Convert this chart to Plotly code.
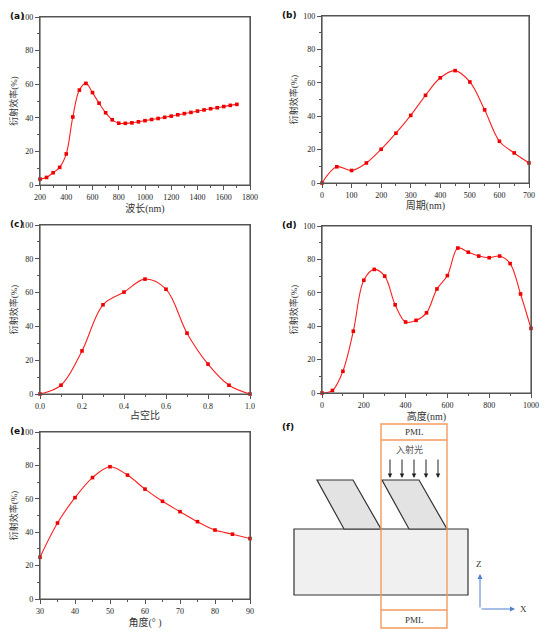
import plotly.graph_objects as go

# page size; the browser puts an 8 px body margin in front of the figure
PAGE_W, PAGE_H = 553, 637
OFF = 8
W, H = PAGE_W - OFF, PAGE_H - OFF


def px(x):
    return (x - OFF) / W


def py(y):
    return 1 - (y - OFF) / H


# (a) wavelength scan
wl_nm = list(range(200, 1701, 50))
eff_wl = [3.5, 4.5, 7.3, 10.5, 18.5, 40.5, 56.5, 60.5, 55.0, 48.7, 43.0, 38.8,
          36.8, 36.7, 37.0, 37.6, 38.3, 39.0, 39.6, 40.3, 41.0, 41.8, 42.5,
          43.2, 44.0, 44.7, 45.4, 46.0, 46.7, 47.4, 48.0]

# (b) period scan
period_nm = list(range(0, 701, 50))
eff_period = [0.0, 9.7, 7.5, 12.0, 20.2, 29.8, 40.5, 52.5, 63.0, 67.3, 60.5,
              43.8, 25.0, 18.0, 12.0]

# (c) duty cycle scan
duty = [0.0, 0.1, 0.2, 0.3, 0.4, 0.5, 0.6, 0.7, 0.8, 0.9, 1.0]
eff_duty = [0.0, 5.2, 25.5, 52.8, 60.3, 68.0, 62.0, 36.0, 17.7, 5.2, 0.0]

# (d) height scan
height_nm = list(range(0, 1001, 50))
eff_height = [0.0, 1.5, 13.0, 37.0, 67.5, 74.0, 70.0, 52.8, 42.5, 43.5, 48.0,
              62.3, 70.3, 86.8, 84.3, 82.0, 81.0, 82.0, 77.5, 59.3, 38.7]

# (e) angle scan
angle_deg = list(range(30, 91, 5))
eff_angle = [25.0, 45.5, 60.7, 72.7, 79.2, 74.2, 65.8, 58.5, 52.3, 46.3, 41.3,
             38.8, 36.2]

panels = [
    # x, y, xtitle, xrange, dtick, minor, tickformat, label, box(page px)
    (wl_nm, eff_wl, "波长(nm)", [200, 1800], 200, 100, "", "(a)", (40, 250, 17, 185)),
    (period_nm, eff_period, "周期(nm)", [0, 700], 100, 50, "", "(b)", (322, 529, 16, 183)),
    (duty, eff_duty, "占空比", [0, 1], 0.2, 0.1, ".1f", "(c)", (40, 250, 225, 394)),
    (height_nm, eff_height, "高度(nm)", [0, 1000], 200, 100, "", "(d)", (322, 531, 226, 393)),
    (angle_deg, eff_angle, "角度(° )", [30, 90], 10, 5, "", "(e)", (40, 250, 432, 599)),
]

SERIF = "Liberation Serif"
MIXED = "Liberation Serif, Noto Sans CJK SC"
AXC = "#555555"
RED = "#ff2020"

fig = go.Figure()
annotations = []
shapes = []

for i, (xs, ys, xt, xr, dt, mn, tf, lab, (x0, x1, y0, y1)) in enumerate(panels):
    n = "" if i == 0 else str(i + 1)
    fig.add_trace(go.Scatter(
        x=xs, y=ys, mode="lines+markers",
        line=dict(color=RED, width=1.1, shape="spline", smoothing=1.0),
        marker=dict(color="#ee0000", size=3.6, symbol="square"),
        xaxis="x" + n, yaxis="y" + n, showlegend=False, cliponaxis=False,
    ))
    ax_style = dict(showline=True, linecolor=AXC, linewidth=1.2, mirror=True,
                    ticks="outside", ticklen=4, tickcolor=AXC, tickwidth=1.2,
                    showgrid=False, zeroline=False, automargin=False,
                    tickfont=dict(family=SERIF, size=8, color="#222222"))
    fig.layout["xaxis" + n] = go.layout.XAxis(
        domain=[px(x0), px(x1)], range=xr, dtick=dt, tick0=xr[0],
        anchor="y" + n, tickformat=tf,
        minor=dict(dtick=mn, ticks="outside", ticklen=2, tickcolor=AXC, tickwidth=1.1),
        title=dict(text=xt, font=dict(family=MIXED, size=10, color="#333333"),
                   standoff=2),
        **ax_style)
    fig.layout["yaxis" + n] = go.layout.YAxis(
        domain=[py(y1), py(y0)], range=[0, 100], dtick=20,
        anchor="x" + n,
        minor=dict(dtick=10, ticks="outside", ticklen=2, tickcolor=AXC, tickwidth=1.1),
        title=dict(text="衍射效率(%)", font=dict(family=MIXED, size=9, color="#333333"),
                   standoff=4),
        **ax_style)
    # plot frame in paper coordinates
    shapes.append(dict(type="rect", xref="paper", yref="paper", layer="above",
                       x0=px(x0), x1=px(x1), y0=py(y1), y1=py(y0),
                       line=dict(color=AXC, width=1.2)))
    annotations.append(dict(
        text="<b>" + lab + "</b>", xref="paper", yref="paper",
        x=px(8 if i % 2 == 0 else 280), y=py(max(y0 - 8, 8)),
        xanchor="left", yanchor="top", showarrow=False,
        font=dict(family="DejaVu Sans", size=9, color="#111111")))

# (f) schematic, drawn in a hidden axis using page-pixel units
annotations.append(dict(text="<b>(f)</b>", xref="paper", yref="paper",
                        x=px(280), y=py(420), xanchor="left", yanchor="top",
                        showarrow=False,
                        font=dict(family="DejaVu Sans", size=9, color="#111111")))
fig.layout["xaxis6"] = go.layout.XAxis(domain=[px(276), 1], range=[276, PAGE_W],
                                       visible=False, anchor="y6", fixedrange=True)
fig.layout["yaxis6"] = go.layout.YAxis(domain=[0, py(415)], range=[PAGE_H, 415],
                                       visible=False, anchor="x6", fixedrange=True)
fig.add_trace(go.Scatter(x=[276, PAGE_W], y=[415, PAGE_H], mode="markers",
                         marker=dict(opacity=0), xaxis="x6", yaxis="y6",
                         showlegend=False, hoverinfo="skip"))

ORANGE = "#f39a5f"
DARK = "#333333"
ref = dict(xref="x6", yref="y6")
# substrate
shapes.append(dict(type="rect", x0=294, x1=468, y0=529, y1=595,
                   fillcolor="#f0f0f0", line=dict(color=DARK, width=1.2), **ref))
# gratings (slanted parallelograms)
for xt0, xt1, xb0, xb1 in [(317, 353, 344, 381), (382, 419, 409, 447)]:
    shapes.append(dict(type="path",
                       path=f"M {xt0} 480 L {xt1} 480 L {xb1} 529 L {xb0} 529 Z",
                       fillcolor="#e3e3e3", line=dict(color=DARK, width=1.2), **ref))
# simulation cell and PML layers
shapes.append(dict(type="rect", x0=381, x1=447, y0=424, y1=628,
                   line=dict(color=ORANGE, width=1.4), **ref))
for yl in (440, 610):
    shapes.append(dict(type="line", x0=381, x1=447, y0=yl, y1=yl,
                       line=dict(color=ORANGE, width=1.4), **ref))
for yl in (432, 620):
    annotations.append(dict(text="PML", x=414, y=yl, showarrow=False,
                            font=dict(family=SERIF, size=9, color="#333333"), **ref))
annotations.append(dict(text="入射光", x=409, y=449, showarrow=False,
                        font=dict(family="Noto Sans CJK SC", size=9, color="#555555"),
                        **ref))
# incident light arrows
for xa in (390, 402, 414, 426, 438):
    annotations.append(dict(x=xa, y=478, ax=xa, ay=458, axref="x6", ayref="y6",
                            text="", showarrow=True, arrowhead=2, arrowsize=0.9,
                            arrowwidth=1, arrowcolor="#222222", **ref))
# coordinate axes
BLUE = "#4f7fcf"
annotations.append(dict(x=480, y=574, ax=480, ay=609, axref="x6", ayref="y6",
                        text="", showarrow=True, arrowhead=2, arrowsize=1,
                        arrowwidth=1, arrowcolor=BLUE, **ref))
annotations.append(dict(x=515, y=609, ax=480, ay=609, axref="x6", ayref="y6",
                        text="", showarrow=True, arrowhead=2, arrowsize=1,
                        arrowwidth=1, arrowcolor=BLUE, **ref))
annotations.append(dict(text="Z", x=479, y=564, showarrow=False,
                        font=dict(family=SERIF, size=9, color="#333333"), **ref))
annotations.append(dict(text="X", x=523, y=609, showarrow=False,
                        font=dict(family=SERIF, size=9, color="#333333"), **ref))

fig.update_layout(
    template="none",
    width=W, height=H, margin=dict(l=0, r=0, t=0, b=0, autoexpand=False),
    paper_bgcolor="white", plot_bgcolor="white",
    annotations=annotations, shapes=shapes,
)

fig.write_html("out.html")
